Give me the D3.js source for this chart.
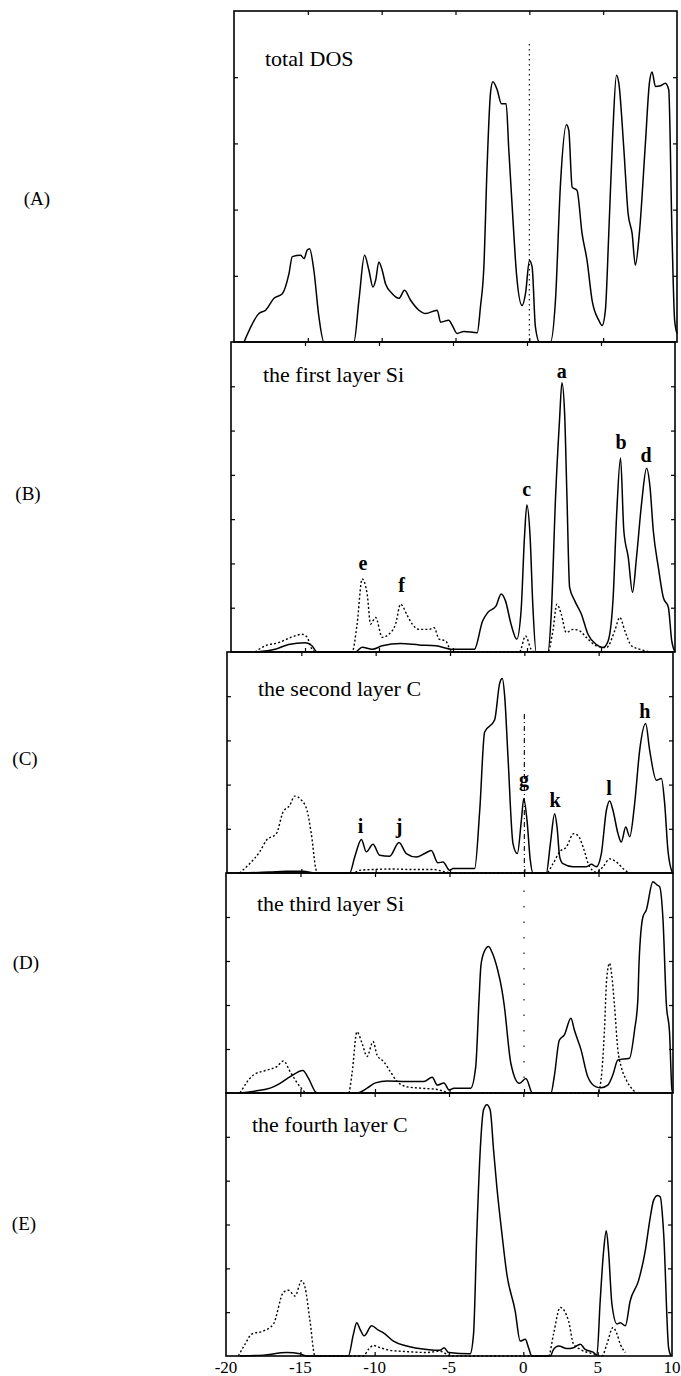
<!DOCTYPE html>
<html>
<head>
<meta charset="utf-8">
<script src="https://cdn.jsdelivr.net/npm/d3@7/dist/d3.min.js"></script>
<style>
  html, body { margin: 0; padding: 0; background: #fff; }
  svg { display: block; }
  text { font-family: "Liberation Serif", "Times New Roman", serif; fill: #000; }
</style>
</head>
<body>
<svg id="chart" width="681" height="1376"></svg>
<script>
// ---------------- data ----------------
const xDomain = [-20, 10];
const xTickValues = [-20, -15, -10, -5, 0, 5, 10];
const panelLetters = ["(A)", "(B)", "(C)", "(D)", "(E)"];
const panelTitles = ["total DOS", "the first layer Si", "the second layer C", "the third layer Si", "the fourth layer C"];
const panelYMax = [5, 7, 5, 5, 6];

// panel A : total DOS
const totalDos = [[-19.32,0],[-18.31,0.43],[-17.86,0.48],[-17.29,0.66],[-16.73,0.73],[-16.28,1.03],[-16.05,1.29],[-15.49,1.31],[-15.26,1.26],[-15.04,1.39],[-14.88,1.41],[-14.59,1.08],[-14.25,0.38],[-13.91,0],[-11.88,0],[-11.54,0.63],[-11.16,1.31],[-10.86,1.08],[-10.59,0.83],[-10.41,0.93],[-10.19,1.21],[-9.96,1.08],[-9.74,0.88],[-9.28,0.73],[-8.83,0.66],[-8.45,0.78],[-8.04,0.63],[-7.48,0.48],[-7.03,0.43],[-6.24,0.48],[-6.01,0.30],[-5.45,0.33],[-5.22,0.25],[-4.89,0.13],[-4.43,0.16],[-3.53,0.14],[-3.31,0.53],[-3.08,1.13],[-2.86,2.65],[-2.63,3.76],[-2.47,3.93],[-2.18,3.81],[-1.89,3.60],[-1.57,3.60],[-1.39,2.90],[-1.12,1.89],[-0.87,1.03],[-0.49,0.55],[-0.26,0.73],[0.01,1.23],[0.19,1.13],[0.41,0.23],[0.69,0],[1.43,0],[1.77,0.63],[2.11,2.39],[2.51,3.28],[2.67,3.20],[2.90,2.34],[3.23,2.29],[3.57,1.64],[3.91,1.23],[4.25,0.63],[4.70,0.33],[4.93,0.25],[5.15,0.48],[5.38,1.64],[5.65,3.15],[5.90,4.03],[6.06,3.91],[6.39,2.95],[6.69,1.94],[6.96,1.64],[7.18,1.16],[7.45,1.64],[7.86,3.0],[8.13,3.91],[8.31,4.08],[8.54,3.86],[8.87,3.87],[9.21,3.91],[9.44,3.81],[9.66,1.64],[9.84,0.33],[10,0.13]];

// panel B : first layer Si
const siFirstSolid = [[-18.26,0],[-17.02,0.06],[-16.11,0.17],[-14.98,0.21],[-14.53,0.14],[-14.19,0],[-11.59,0],[-11.14,0.11],[-10.46,0.06],[-9.78,0.14],[-8.54,0.19],[-7.29,0.16],[-6.16,0.14],[-5.03,0.06],[-3.56,0.06],[-3.0,0.70],[-2.66,0.89],[-2.09,1.04],[-1.75,1.31],[-1.46,1.16],[-1.08,0.63],[-0.69,0.29],[-0.40,0.93],[-0.17,2.60],[-0.01,3.32],[0.21,2.60],[0.39,1.08],[0.62,0],[1.41,0],[1.64,0.86],[1.93,3.50],[2.20,5.25],[2.36,6.08],[2.54,5.40],[2.70,3.50],[2.88,1.46],[3.22,1.16],[3.67,0.86],[4.12,0.40],[4.69,0.17],[5.14,0.10],[5.48,0.25],[5.82,1.23],[6.05,3.05],[6.32,4.38],[6.54,2.75],[6.84,2.14],[7.13,1.35],[7.40,2.14],[7.74,3.35],[8.08,4.15],[8.31,3.73],[8.53,2.75],[8.87,1.92],[9.21,1.23],[9.55,1.01],[9.78,0.25],[10,0]];
const siFirstDotted = [[-18.37,0],[-17.69,0.14],[-16.79,0.21],[-15.88,0.34],[-15.21,0.40],[-14.87,0.34],[-14.53,0.06],[-14.30,0],[-11.82,0],[-11.48,0.63],[-11.14,1.65],[-10.80,1.31],[-10.57,0.63],[-10.23,0.78],[-9.78,0.33],[-9.33,0.40],[-8.88,0.63],[-8.54,1.08],[-8.08,0.82],[-7.75,0.63],[-7.29,0.51],[-6.62,0.51],[-6.28,0.55],[-5.94,0.29],[-5.49,0.25],[-5.26,0.10],[-5.03,0],[-0.51,0],[-0.10,0.36],[0.28,0.06],[0.5,0],[1.41,0],[1.75,0.48],[2.02,1.08],[2.31,0.86],[2.65,0.44],[3.10,0.51],[3.55,0.48],[4.01,0.33],[4.69,0.14],[5.37,0.10],[5.93,0.48],[6.27,0.78],[6.61,0.48],[7.06,0.14],[7.63,0.06],[8.31,0]];

// panel C : second layer C
const cSecondSolid = [[-19.15,0],[-17.13,0.02],[-16.0,0.04],[-14.89,0.04],[-13.99,0],[-11.75,0],[-11.41,0.36],[-10.96,0.76],[-10.63,0.48],[-10.18,0.65],[-9.73,0.40],[-9.06,0.38],[-8.43,0.69],[-7.94,0.44],[-7.26,0.36],[-6.70,0.44],[-6.26,0.51],[-5.81,0.23],[-5.47,0.25],[-5.02,0.06],[-4.80,0.10],[-3.34,0.10],[-3.0,1.42],[-2.67,3.19],[-2.0,3.46],[-1.66,4.29],[-1.48,4.40],[-1.32,3.99],[-1.10,2.63],[-0.76,0.66],[-0.47,0.44],[-0.20,1.19],[-0.04,1.68],[0.18,1.19],[0.40,0.29],[0.58,0],[1.48,0],[1.75,0.66],[2.04,1.34],[2.20,1.04],[2.38,0.36],[2.60,0.21],[3.27,0.14],[4.17,0.14],[4.51,0.20],[4.84,0.14],[5.18,0.44],[5.52,1.42],[5.74,1.63],[5.96,1.42],[6.30,0.89],[6.52,0.70],[6.82,1.04],[7.09,0.82],[7.42,1.57],[7.76,2.78],[8.16,3.38],[8.43,2.78],[8.88,2.10],[9.22,2.14],[9.44,1.57],[9.66,0.51],[9.96,0]];
const cSecondDotted = [[-19.15,0],[-18.48,0.21],[-17.80,0.48],[-17.35,0.74],[-16.68,0.89],[-16.23,1.38],[-15.78,1.53],[-15.45,1.74],[-15.0,1.65],[-14.62,1.42],[-14.33,0.89],[-13.99,0.06],[-13.77,0],[-11.5,0],[-11.08,0.06],[-10.18,0.08],[-8.83,0.09],[-7.71,0.08],[-6.14,0.08],[-5.25,0.02],[-4.80,0],[1.48,0],[1.93,0.21],[2.38,0.48],[2.83,0.59],[3.32,0.89],[3.61,0.85],[3.95,0.59],[4.39,0.14],[4.84,0.02],[5.29,0.14],[5.74,0.32],[6.19,0.25],[6.64,0.10],[7.04,0]];

// panel D : third layer Si
const siThirdSolid = [[-19.06,0],[-17.94,0.05],[-17.04,0.11],[-16.37,0.22],[-15.69,0.37],[-14.84,0.51],[-14.46,0.33],[-14.01,0.03],[-13.9,0],[-11.2,0],[-10.53,0.11],[-9.97,0.23],[-9.19,0.27],[-7.84,0.26],[-6.72,0.26],[-6.16,0.36],[-5.82,0.18],[-5.37,0.23],[-5.03,0.07],[-4.70,0.11],[-3.58,0.11],[-3.24,0.60],[-3.02,2.11],[-2.89,2.9],[-2.67,3.21],[-2.38,3.33],[-2.11,3.17],[-1.77,2.80],[-1.48,2.34],[-1.33,2.0],[-0.88,0.67],[-0.32,0.22],[0.13,0.33],[0.57,0],[1.81,0],[2.03,0.37],[2.37,1.20],[2.71,1.32],[3.15,1.70],[3.38,1.43],[3.83,0.98],[4.28,0.37],[4.84,0.14],[5.17,0.12],[5.62,0.18],[5.96,0.41],[6.30,0.75],[7.08,0.79],[7.42,1.43],[7.64,2.11],[7.72,2.95],[7.98,4.0],[8.21,4.16],[8.65,4.80],[8.92,4.73],[9.10,4.69],[9.33,3.93],[9.55,2.04],[9.77,1.36],[9.93,0.07],[10,0]];
const siThirdDotted = [[-19.06,0],[-18.16,0.41],[-17.26,0.52],[-16.59,0.60],[-16.14,0.73],[-15.69,0.48],[-15.02,0.14],[-14.57,0],[-11.77,0],[-11.54,0.45],[-11.21,1.39],[-10.87,1.13],[-10.53,0.83],[-10.13,1.17],[-9.86,0.86],[-9.41,0.71],[-8.96,0.48],[-8.51,0.26],[-7.84,0.14],[-6.94,0.11],[-5.82,0.08],[-4.92,0],[4.95,0],[5.17,0.30],[5.39,1.36],[5.55,2.6],[5.74,2.95],[5.88,2.7],[6.07,2.0],[6.30,0.98],[6.52,0.60],[6.86,0.30],[7.31,0.07],[7.53,0]];

// panel E : fourth layer C
const cFourthSolid = [[-19.06,0],[-17.49,0.02],[-15.92,0.08],[-15.02,0.05],[-14.57,0],[-11.77,0],[-11.43,0.50],[-11.21,0.76],[-10.98,0.61],[-10.71,0.46],[-10.20,0.69],[-9.75,0.59],[-9.41,0.53],[-8.74,0.34],[-7.84,0.23],[-6.49,0.15],[-5.60,0.13],[-5.33,0.19],[-5.03,0.08],[-3.58,0.05],[-3.35,0.50],[-3.13,2.79],[-2.90,4.69],[-2.68,5.61],[-2.45,5.73],[-2.23,5.61],[-2.0,4.69],[-1.78,3.85],[-1.44,2.79],[-1.11,1.87],[-0.55,1.03],[-0.21,0.34],[0.13,0.38],[0.35,0.19],[0.57,0],[1.81,0],[2.03,0.15],[2.37,0.23],[2.93,0.17],[3.38,0.19],[3.83,0.27],[4.16,0.15],[4.72,0.08],[4.95,0.02],[5.17,1.26],[5.40,2.40],[5.58,2.86],[5.73,2.40],[5.96,1.18],[6.30,0.73],[6.52,0.76],[6.86,0.69],[7.19,1.26],[7.75,1.72],[8.20,2.40],[8.54,3.17],[8.76,3.55],[9.03,3.66],[9.21,3.63],[9.44,2.79],[9.77,0.19],[9.93,0]];
const cFourthDotted = [[-19.17,0],[-18.72,0.27],[-18.27,0.50],[-17.49,0.57],[-16.81,0.73],[-16.14,1.45],[-15.80,1.50],[-15.36,1.37],[-14.91,1.72],[-14.68,1.56],[-14.35,0.80],[-14.01,0],[-10.76,0],[-10.42,0.15],[-10.08,0.24],[-9.63,0.19],[-8.96,0.13],[-7.84,0.10],[-6.49,0.08],[-5.60,0.11],[-5.15,0.04],[-4.92,0],[1.70,0],[2.03,0.50],[2.48,1.11],[3.04,0.80],[3.38,0.27],[3.83,0.15],[4.72,0.05],[5.29,0],[5.62,0.27],[6.03,0.65],[6.30,0.50],[6.52,0.27],[6.86,0.08]];

// peak annotations (data coordinates: energy, height)
const peakLabelsB = [["a",2.34,6.19],["b",6.35,4.58],["d",8.04,4.29],["c",-0.02,3.52],["e",-11.08,1.85],["f",-8.47,1.35]];
const peakLabelsC = [["g",-0.03,1.97],["h",8.11,3.51],["k",2.06,1.49],["l",5.69,1.76],["i",-11.01,0.90],["j",-8.43,0.90]];

// ---------------- layout ----------------
const panels = [
  {left:234, right:677, top:11,   bottom:342,  solid: totalDos,     dotted: null,          labels: [],          fermi: {from:4.5, dash:"1.5,3.5"}},
  {left:231, right:675, top:342,  bottom:652,  solid: siFirstSolid, dotted: siFirstDotted, labels: peakLabelsB, fermi: null},
  {left:227, right:673, top:652,  bottom:873,  solid: cSecondSolid, dotted: cSecondDotted, labels: peakLabelsC, fermi: {from:3.6, dash:"5,3,1,3"}},
  {left:226, right:673, top:873,  bottom:1093, solid: siThirdSolid, dotted: siThirdDotted, labels: [],          fermi: {from:4.6, dash:"1.5,14"}},
  {left:226, right:672, top:1093, bottom:1356, solid: cFourthSolid, dotted: cFourthDotted, labels: [],          fermi: null}
];
const letterPos = [[37,205],[28,500],[25,765],[26,969],[24,1230]];
const titlePos = [[265,66],[263,382],[258,696],[257,911],[252,1132]];

const svg = d3.select("#chart");
const tickLen = 4;

panels.forEach((p, i) => {
  const x = d3.scaleLinear().domain(xDomain).range([p.left, p.right]);
  const y = d3.scaleLinear().domain([0, panelYMax[i]]).range([p.bottom, p.top]);
  const g = svg.append("g");

  // inward ticks: bottom, top, left, right
  const xt = xTickValues.filter(v => v > xDomain[0] && v < xDomain[1]);
  const yt = d3.range(1, panelYMax[i]);
  g.append("g").attr("transform", `translate(0,${p.bottom})`)
    .call(d3.axisBottom(x).tickValues(xt).tickSize(-tickLen).tickFormat(""))
    .call(a => a.select(".domain").remove());
  g.append("g").attr("transform", `translate(0,${p.top})`)
    .call(d3.axisTop(x).tickValues(xt).tickSize(-tickLen).tickFormat(""))
    .call(a => a.select(".domain").remove());
  g.append("g").attr("transform", `translate(${p.left},0)`)
    .call(d3.axisLeft(y).tickValues(yt).tickSize(-tickLen).tickFormat(""))
    .call(a => a.select(".domain").remove());
  g.append("g").attr("transform", `translate(${p.right},0)`)
    .call(d3.axisRight(y).tickValues(yt).tickSize(-tickLen).tickFormat(""))
    .call(a => a.select(".domain").remove());
  g.selectAll(".tick line").attr("stroke", "#000").attr("stroke-width", 1.2);

  // frame
  g.append("rect")
    .attr("x", p.left).attr("y", p.top)
    .attr("width", p.right - p.left).attr("height", p.bottom - p.top)
    .attr("fill", "none").attr("stroke", "#000").attr("stroke-width", 1.6);

  // Fermi level marker
  if (p.fermi) {
    g.append("line")
      .attr("x1", x(0)).attr("x2", x(0))
      .attr("y1", y(p.fermi.from)).attr("y2", y(0))
      .attr("stroke", "#000").attr("stroke-width", 1.1)
      .attr("stroke-dasharray", p.fermi.dash);
  }

  const line = d3.line().x(d => x(d[0])).y(d => y(d[1])).curve(d3.curveMonotoneX);

  if (p.dotted) {
    g.append("path").datum(p.dotted)
      .attr("d", line).attr("fill", "none")
      .attr("stroke", "#000").attr("stroke-width", 1.4)
      .attr("stroke-dasharray", "2,2.2");
  }
  g.append("path").datum(p.solid)
    .attr("d", line).attr("fill", "none")
    .attr("stroke", "#000").attr("stroke-width", 1.5)
    .attr("stroke-linejoin", "round");

  // peak letters
  g.selectAll("text.peak").data(p.labels).enter().append("text")
    .attr("class", "peak")
    .attr("x", d => x(d[1])).attr("y", d => y(d[2]))
    .attr("text-anchor", "middle")
    .attr("font-size", 20).attr("font-weight", "bold")
    .text(d => d[0]);

  // title
  g.append("text")
    .attr("transform", `translate(${titlePos[i][0]},${titlePos[i][1]}) scale(1.1,1)`)
    .attr("font-size", 20)
    .text(panelTitles[i]);

  // panel letter
  svg.append("text")
    .attr("x", letterPos[i][0]).attr("y", letterPos[i][1])
    .attr("text-anchor", "middle")
    .attr("font-size", 19)
    .text(panelLetters[i]);

  // bottom axis labels
  if (i === panels.length - 1) {
    svg.append("g")
      .selectAll("text").data(xTickValues).enter().append("text")
      .attr("x", d => x(d)).attr("y", p.bottom + 17)
      .attr("text-anchor", "middle")
      .attr("font-size", 17)
      .text(d => d);
  }
});
</script>
</body>
</html>
